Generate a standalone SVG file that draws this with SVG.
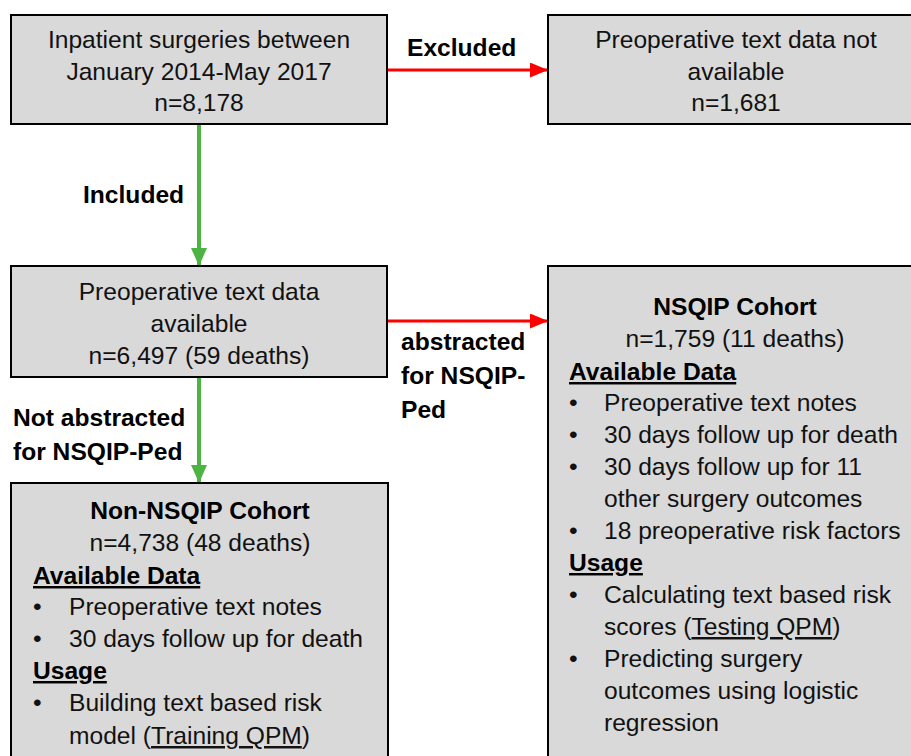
<svg xmlns="http://www.w3.org/2000/svg" width="911" height="756" viewBox="0 0 911 756">
<style>
.box{fill:#d9d9d9;stroke:#000;stroke-width:2}
text{font-family:"Liberation Sans",Arial,sans-serif;font-size:24.6px;fill:#111}
.c{text-anchor:middle}
.b{font-weight:bold;fill:#000}
.u{text-decoration:underline}
.red{stroke:#ff0000;stroke-width:3;fill:none}
.grn{stroke:#4db342;stroke-width:4;fill:none}
</style>
<defs>
<marker id="ar" markerWidth="6" markerHeight="5" refX="6" refY="2.5" orient="auto" markerUnits="strokeWidth"><path d="M0,0 L6,2.5 L0,5 Z" fill="#ff0000"/></marker>
<marker id="ag" markerWidth="4.5" markerHeight="4" refX="4.5" refY="2" orient="auto" markerUnits="strokeWidth"><path d="M0,0 L4.5,2 L0,4 Z" fill="#4db342"/></marker>
</defs>
<rect width="911" height="756" fill="#fff"/>
<g id="connectors">
<line class="red" x1="388" y1="70" x2="548" y2="70" marker-end="url(#ar)"/>
<line class="red" x1="388" y1="321" x2="548" y2="321" marker-end="url(#ar)"/>
<line class="grn" x1="199" y1="125" x2="199" y2="266" marker-end="url(#ag)"/>
<line class="grn" x1="199" y1="378" x2="199" y2="483" marker-end="url(#ag)"/>
<text class="b" x="407" y="56">Excluded</text>
<text class="b" x="83" y="203">Included</text>
<text class="b" x="401" y="350">abstracted</text>
<text class="b" x="401" y="384">for NSQIP-</text>
<text class="b" x="401" y="418">Ped</text>
<text class="b" x="13" y="426">Not abstracted</text>
<text class="b" x="13" y="460">for NSQIP-Ped</text>
</g>
<g id="n1">
<rect class="box" x="11" y="15" width="376" height="109"/>
<text class="c" x="199" y="48">Inpatient surgeries between</text>
<text class="c" x="199" y="80">January 2014-May 2017</text>
<text class="c" x="199" y="111">n=8,178</text>
</g>
<g id="n2">
<rect class="box" x="548" y="15" width="370" height="109"/>
<text class="c" x="736" y="48">Preoperative text data not</text>
<text class="c" x="736" y="80">available</text>
<text class="c" x="736" y="111">n=1,681</text>
</g>
<g id="n3">
<rect class="box" x="11" y="266" width="376" height="111"/>
<text class="c" x="199" y="300">Preoperative text data</text>
<text class="c" x="199" y="332">available</text>
<text class="c" x="199" y="364">n=6,497 (59 deaths)</text>
</g>
<g id="n4">
<rect class="box" x="11" y="483" width="377" height="290"/>
<text class="c b" x="200" y="519">Non-NSQIP Cohort</text>
<text class="c" x="200" y="551">n=4,738 (48 deaths)</text>
<text class="b u" x="33" y="584">Available Data</text>
<text x="33" y="615">•</text>
<text x="69" y="615">Preoperative text notes</text>
<text x="33" y="647">•</text>
<text x="69" y="647">30 days follow up for death</text>
<text class="b u" x="33" y="679">Usage</text>
<text x="33" y="711">•</text>
<text x="69" y="711">Building text based risk</text>
<text x="69" y="744">model (<tspan class="u">Training QPM</tspan>)</text>
</g>
<g id="n5">
<rect class="box" x="548" y="266" width="370" height="507"/>
<text class="c b" x="735" y="315">NSQIP Cohort</text>
<text class="c" x="735" y="347">n=1,759 (11 deaths)</text>
<text class="b u" x="569" y="380">Available Data</text>
<text x="569" y="411">•</text>
<text x="604" y="411">Preoperative text notes</text>
<text x="569" y="443">•</text>
<text x="604" y="443">30 days follow up for death</text>
<text x="569" y="475">•</text>
<text x="604" y="475">30 days follow up for 11</text>
<text x="604" y="507">other surgery outcomes</text>
<text x="569" y="539">•</text>
<text x="604" y="539">18 preoperative risk factors</text>
<text class="b u" x="569" y="571">Usage</text>
<text x="569" y="603">•</text>
<text x="604" y="603">Calculating text based risk</text>
<text x="604" y="635">scores (<tspan class="u">Testing QPM</tspan>)</text>
<text x="569" y="667">•</text>
<text x="604" y="667">Predicting surgery</text>
<text x="604" y="699">outcomes using logistic</text>
<text x="604" y="731">regression</text>
</g>
</svg>
